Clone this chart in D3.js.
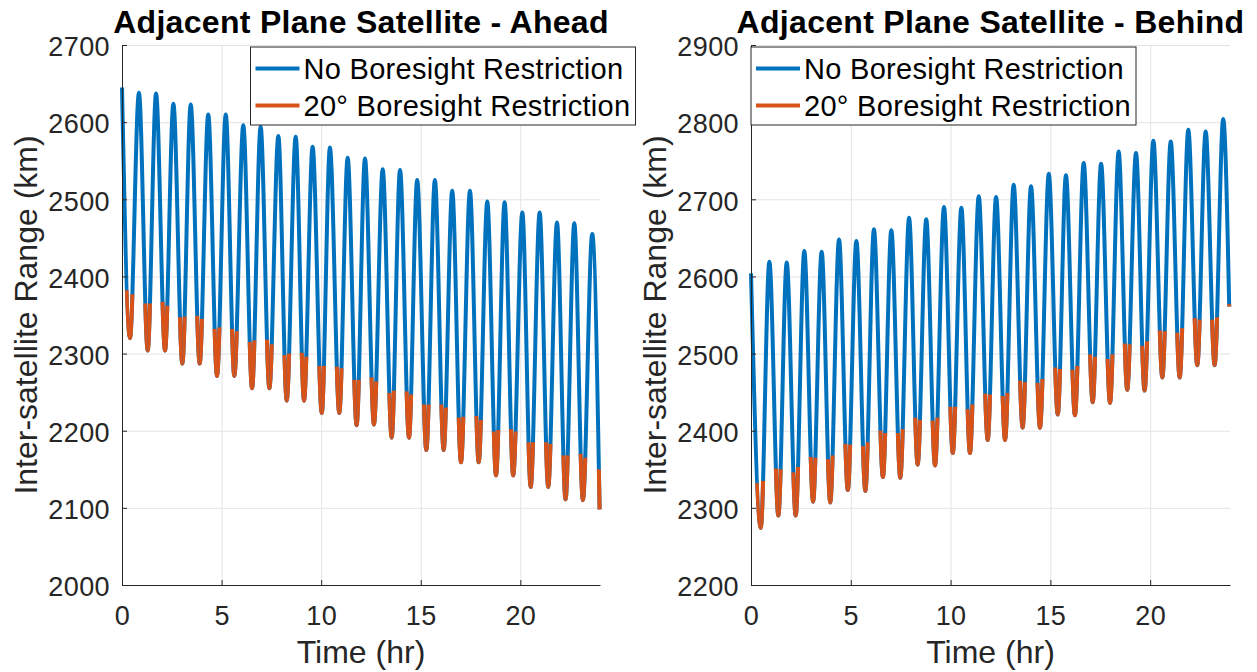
<!DOCTYPE html>
<html>
<head>
<meta charset="utf-8">
<script src="https://cdn.jsdelivr.net/npm/d3@7"></script>
<style>
  body { margin: 0; background: #fff; }
  svg text { font-family: "Liberation Sans", Arial, Helvetica, sans-serif; }
</style>
</head>
<body>
<div id="chart"></div>
<script>

// ---- Data (time in hr, range in km) ----
var timeTicks = [0, 5, 10, 15, 20];
var aheadYTicks = [2000, 2100, 2200, 2300, 2400, 2500, 2600, 2700];
var behindYTicks = [2200, 2300, 2400, 2500, 2600, 2700, 2800, 2900];
var seriesNames = ["No Boresight Restriction", "20\u00B0 Boresight Restriction"];

// Ahead: local maxima / minima of the range curve
var aheadStart = [0, 2645];
var aheadEnd = [23.98, 2098];
var aheadPeakT = [0.85, 1.71, 2.58, 3.45, 4.33, 5.21, 6.09, 6.96, 7.85, 8.72, 9.57, 10.44, 11.33, 12.20,
  13.09, 13.96, 14.82, 15.71, 16.58, 17.47, 18.34, 19.21, 20.10, 20.97, 21.84, 22.71, 23.61];
var aheadPeakV = [2638, 2637, 2624, 2623, 2610, 2610, 2596, 2594, 2582, 2581, 2568, 2567, 2554, 2553,
  2539, 2538, 2525, 2525, 2511, 2511, 2497, 2496, 2483, 2483, 2470, 2469, 2455];
var aheadTroughT = [0.40, 1.29, 2.16, 3.03, 3.90, 4.77, 5.64, 6.53, 7.40, 8.27, 9.14, 10.03, 10.91, 11.78,
  12.65, 13.54, 14.41, 15.28, 16.15, 17.02, 17.91, 18.78, 19.64, 20.52, 21.40, 22.27, 23.14];
var aheadTroughV = [2320, 2304, 2304, 2287, 2287, 2271, 2271, 2255, 2255, 2239, 2239, 2223, 2223, 2207,
  2208, 2191, 2191, 2175, 2175, 2159, 2159, 2142, 2142, 2127, 2127, 2111, 2110];
// range where the 20 deg restriction curve starts / stops around each minimum
var aheadCutL = [2382, 2365, 2367, 2347, 2349, 2332, 2332, 2315, 2318, 2298, 2301, 2284, 2283, 2266,
  2269, 2249, 2251, 2234, 2234, 2217, 2219, 2199, 2202, 2185, 2185, 2168, 2170];
var aheadCutR = [2377, 2365, 2362, 2348, 2345, 2334, 2329, 2317, 2312, 2300, 2296, 2284, 2281, 2266,
  2264, 2252, 2247, 2234, 2230, 2218, 2214, 2201, 2199, 2185, 2183, 2168, 2165];
var aheadEndCut = 2150;

// Behind
var behindStart = [0, 2604];
var behindEnd = [23.96, 2561];
var behindPeakT = [0.92, 1.79, 2.67, 3.54, 4.41, 5.28, 6.16, 7.03, 7.92, 8.78, 9.67, 10.54, 11.41, 12.28,
  13.16, 14.03, 14.92, 15.78, 16.67, 17.54, 18.42, 19.29, 20.16, 21.03, 21.91, 22.78, 23.66];
var behindPeakV = [2619, 2618, 2633, 2632, 2648, 2646, 2661, 2660, 2676, 2674, 2690, 2689, 2704, 2703,
  2719, 2717, 2733, 2731, 2747, 2746, 2762, 2760, 2776, 2775, 2790, 2788, 2804];
var behindTroughT = [0.49, 1.37, 2.24, 3.11, 3.97, 4.85, 5.73, 6.61, 7.48, 8.35, 9.22, 10.11, 10.97, 11.86,
  12.73, 13.61, 14.48, 15.37, 16.23, 17.12, 17.99, 18.85, 19.72, 20.61, 21.48, 22.36, 23.23];
var behindTroughV = [2274, 2290, 2290, 2308, 2307, 2323, 2322, 2340, 2339, 2356, 2355, 2371, 2371, 2388,
  2388, 2404, 2404, 2421, 2420, 2437, 2436, 2453, 2452, 2469, 2469, 2485, 2485];
var behindCutL = [2332, 2351, 2346, 2366, 2363, 2383, 2380, 2400, 2397, 2417, 2413, 2431, 2428, 2448,
  2445, 2465, 2462, 2482, 2479, 2499, 2493, 2513, 2510, 2530, 2527, 2546, 2544];
var behindCutR = [2335, 2350, 2353, 2365, 2368, 2382, 2385, 2397, 2402, 2414, 2417, 2431, 2434, 2447,
  2449, 2463, 2467, 2480, 2484, 2496, 2499, 2512, 2516, 2529, 2533, 2544, 2547];
var behindEndCut = 2564;

// ---- Layout ----
var svgWidth = 1257;
var svgHeight = 672;
var plotTop = 45;
var plotBottom = 585;
var blue = "#0072bd";
var orange = "#d95319";
var ink = "#262626";

var svg = d3.select("#chart")
  .append("svg")
  .attr("width", svgWidth)
  .attr("height", svgHeight);

var panels = [
  {
    id: "ahead", title: "Adjacent Plane Satellite - Ahead", left: 122, right: 600, legendX: 250.5,
    yDomain: [2000, 2700], yTicks: aheadYTicks,
    start: aheadStart, end: aheadEnd, endCut: aheadEndCut,
    peakT: aheadPeakT, peakV: aheadPeakV, troughT: aheadTroughT, troughV: aheadTroughV,
    cutL: aheadCutL, cutR: aheadCutR
  },
  {
    id: "behind", title: "Adjacent Plane Satellite - Behind", left: 751, right: 1230, legendX: 751,
    yDomain: [2200, 2900], yTicks: behindYTicks,
    start: behindStart, end: behindEnd, endCut: behindEndCut,
    peakT: behindPeakT, peakV: behindPeakV, troughT: behindTroughT, troughV: behindTroughV,
    cutL: behindCutL, cutR: behindCutR
  }
];

function drawPanel(p) {
  var x = d3.scaleLinear().domain([0, 24]).range([p.left, p.right]);
  var y = d3.scaleLinear().domain(p.yDomain).range([plotBottom, plotTop]);
  var g = svg.append("g");

  // grid lines
  g.append("g")
    .attr("transform", `translate(0, ${plotBottom})`)
    .call(d3.axisBottom(x).tickValues(timeTicks).tickSize(-(plotBottom - plotTop)).tickFormat(""))
    .call(s => s.select(".domain").remove())
    .selectAll("line").attr("stroke", "#e3e3e3");
  g.append("g")
    .attr("transform", `translate(${p.left}, 0)`)
    .call(d3.axisLeft(y).tickValues(p.yTicks).tickSize(-(p.right - p.left)).tickFormat(""))
    .call(s => s.select(".domain").remove())
    .selectAll("line").attr("stroke", "#e3e3e3");

  // curve through the extrema, start to end
  var pts = [p.start];
  p.troughT.forEach(function (t, i) {
    pts.push([t, p.troughV[i]]);
    pts.push([p.peakT[i], p.peakV[i]]);
  });
  pts.push(p.end);

  var line = d3.line()
    .x(d => x(d[0]))
    .y(d => y(d[1]))
    .curve(d3.curveMonotoneX);

  g.append("path")
    .attr("d", line(pts))
    .attr("fill", "none")
    .attr("stroke", blue)
    .attr("stroke-width", 4)
    .attr("stroke-linejoin", "round");

  // 20 deg restriction: same curve, kept only below the cut range of each minimum
  var clip = g.append("clipPath").attr("id", p.id + "-clip");
  function cutRect(t0, t1, v) {
    clip.append("rect")
      .attr("x", x(t0))
      .attr("width", x(t1) - x(t0))
      .attr("y", y(v))
      .attr("height", plotBottom + 10 - y(v));
  }
  p.troughT.forEach(function (t, i) {
    var t0 = i === 0 ? p.start[0] : p.peakT[i - 1];
    cutRect(t0, t, p.cutL[i]);
    cutRect(t, p.peakT[i], p.cutR[i]);
  });
  cutRect(p.peakT[p.peakT.length - 1], p.end[0] + 0.2, p.endCut);

  g.append("path")
    .attr("d", line(pts))
    .attr("fill", "none")
    .attr("stroke", orange)
    .attr("stroke-width", 4)
    .attr("stroke-linejoin", "round")
    .attr("clip-path", `url(#${p.id}-clip)`);

  // axes, ticks pointing inward
  g.append("g")
    .attr("transform", `translate(0, ${plotBottom})`)
    .call(d3.axisBottom(x).tickValues(timeTicks).tickFormat(d3.format("d"))
      .tickSizeInner(-5).tickSizeOuter(0).tickPadding(21))
    .attr("color", ink)
    .attr("font-size", 27)
    .attr("font-family", null)
    .selectAll("text").attr("letter-spacing", 0.4);
  g.append("g")
    .attr("transform", `translate(${p.left}, 0)`)
    .call(d3.axisLeft(y).tickValues(p.yTicks).tickFormat(d3.format("d"))
      .tickSizeInner(-5).tickSizeOuter(0).tickPadding(12))
    .attr("color", ink)
    .attr("font-size", 27)
    .attr("font-family", null)
    .selectAll("text").attr("letter-spacing", 0.4).attr("dy", "0.4em");

  // labels and title
  g.append("text")
    .attr("x", (p.left + p.right) / 2)
    .attr("y", 663)
    .attr("text-anchor", "middle")
    .attr("font-size", 32)
    .attr("fill", ink)
    .text("Time (hr)");

  g.append("text")
    .attr("transform", `translate(${p.left - 85}, ${(plotTop + plotBottom) / 2}) rotate(-90)`)
    .attr("text-anchor", "middle")
    .attr("font-size", 32)
    .attr("fill", ink)
    .text("Inter-satellite Range (km)");

  g.append("text")
    .attr("x", (p.left + p.right) / 2)
    .attr("y", 33)
    .attr("text-anchor", "middle")
    .attr("font-size", 32)
    .attr("letter-spacing", 0.3)
    .attr("font-weight", "bold")
    .attr("fill", "#000")
    .text(p.title);

  // legend
  var legend = g.append("g").attr("transform", `translate(${p.legendX}, 47)`);
  legend.append("rect")
    .attr("width", 385)
    .attr("height", 78)
    .attr("fill", "#fff")
    .attr("stroke", ink)
    .attr("stroke-width", 1);
  [blue, orange].forEach(function (c, i) {
    var ly = 21.5 + i * 37;
    legend.append("line")
      .attr("x1", 5).attr("x2", 49)
      .attr("y1", ly).attr("y2", ly)
      .attr("stroke", c)
      .attr("stroke-width", 4);
    legend.append("text")
      .attr("x", 53)
      .attr("y", ly)
      .attr("dy", "0.35em")
      .attr("font-size", 29)
      .attr("letter-spacing", 0.3)
      .attr("fill", "#000")
      .text(seriesNames[i]);
  });
}

panels.forEach(drawPanel);

</script>
</body>
</html>
